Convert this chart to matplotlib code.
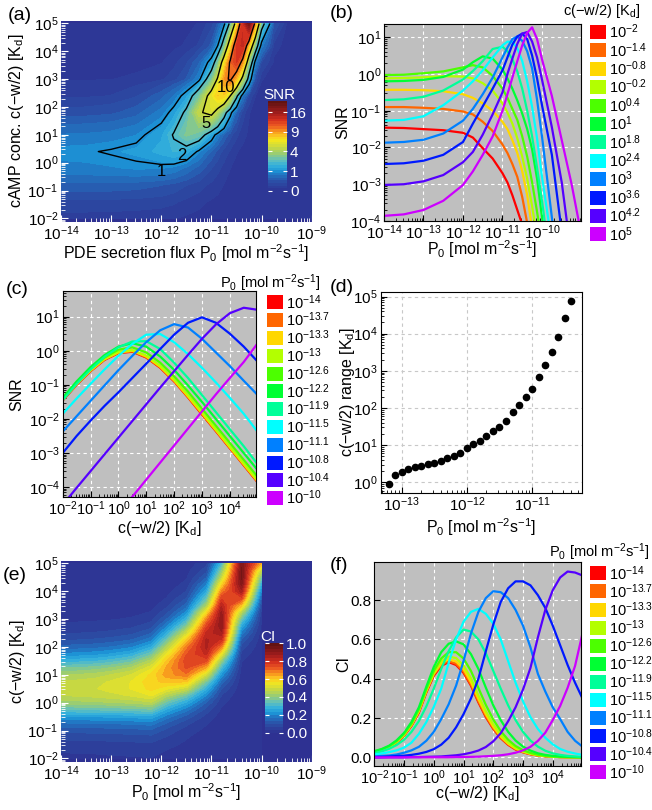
import numpy as np
import matplotlib.pyplot as plt
from matplotlib.colors import LinearSegmentedColormap, PowerNorm, Normalize
from matplotlib.patches import Rectangle
from matplotlib.ticker import FixedLocator, FuncFormatter, LogLocator, NullFormatter

plt.rcParams['font.family'] = ['Liberation Sans', 'DejaVu Sans']
plt.rcParams['mathtext.fontset'] = 'custom'
plt.rcParams['mathtext.rm'] = 'Liberation Sans'
plt.rcParams['mathtext.it'] = 'Liberation Sans:italic'
plt.rcParams['mathtext.bf'] = 'Liberation Sans:bold'

W, H = 652, 810
GRAY = '#bfbfbf'
NAVY = '#2e3192'
TICK_FS = 11
LABEL_FS = 11.5

# ---------------- SNR vs P0 for fixed c(-w/2)  (panels a, b) ----------------
c_exp = [-2, -1.4, -0.8, -0.2, 0.4, 1, 1.8, 2.4, 3, 3.6, 4.2, 5]
p0_grid = [-14, -13.5, -13, -12.5, -12, -11.75, -11.5, -11.25, -11, -10.875, -10.75,
           -10.625, -10.5, -10.375, -10.25, -10.125, -10, -9.75, -9.5, -9.25, -9]
# log10(SNR), one row per c value
log_snr = np.array([
    [-1.46, -1.47, -1.50, -1.53, -1.60, -1.73, -2.02, -2.30, -2.70, -2.95, -3.30, -3.70, -4.10, -4.60, -5.10, -5.60, -6.00, -7, -7, -7, -7],
    [-0.90, -0.90, -0.92, -0.95, -1.02, -1.10, -1.30, -1.55, -1.92, -2.15, -2.45, -2.80, -3.35, -4.05, -4.70, -5.30, -6.00, -7, -7, -7, -7],
    [-0.43, -0.43, -0.44, -0.47, -0.55, -0.65, -0.80, -1.00, -1.30, -1.50, -1.80, -2.15, -2.65, -3.30, -4.20, -5.00, -5.70, -7, -7, -7, -7],
    [-0.12, -0.11, -0.09, -0.06, -0.07, -0.12, -0.25, -0.45, -0.80, -1.05, -1.35, -1.75, -2.25, -2.85, -3.60, -4.45, -5.30, -7, -7, -7, -7],
    [-0.03, -0.02, 0.02, 0.07, 0.18, 0.24, 0.18, -0.05, -0.40, -0.65, -0.95, -1.25, -1.70, -2.25, -2.95, -3.75, -4.60, -6.5, -7, -7, -7],
    [-0.20, -0.19, -0.16, -0.08, 0.12, 0.32, 0.48, 0.42, 0.12, -0.12, -0.40, -0.72, -1.08, -1.50, -2.05, -2.85, -3.90, -6.0, -7, -7, -7],
    [-0.71, -0.69, -0.62, -0.45, -0.15, 0.08, 0.35, 0.68, 0.74, 0.62, 0.40, 0.07, -0.40, -1.00, -1.70, -2.55, -3.45, -5.5, -7, -7, -7],
    [-1.27, -1.25, -1.15, -0.85, -0.45, -0.20, 0.10, 0.45, 0.78, 0.88, 0.87, 0.70, 0.35, -0.20, -0.90, -1.75, -2.80, -4.6, -7, -7, -7],
    [-1.87, -1.85, -1.79, -1.62, -1.27, -0.95, -0.55, -0.10, 0.45, 0.72, 0.95, 1.02, 0.90, 0.62, 0.15, -0.70, -1.70, -3.9, -6.0, -7, -7],
    [-2.45, -2.43, -2.36, -2.20, -1.85, -1.35, -0.88, -0.40, 0.10, 0.45, 0.80, 1.02, 1.10, 0.95, 0.50, -0.12, -0.85, -2.2, -4.3, -6.5, -7],
    [-3.02, -3.00, -2.92, -2.75, -2.40, -2.12, -1.65, -1.10, -0.50, 0.00, 0.42, 0.82, 1.10, 1.14, 0.88, 0.45, -0.15, -1.45, -2.95, -5.0, -7],
    [-3.86, -3.82, -3.70, -3.45, -3.02, -2.65, -2.20, -1.70, -1.00, -0.55, -0.10, 0.35, 0.78, 1.12, 1.27, 0.95, 0.40, -0.60, -1.80, -3.00, -4.40],
])

# ---------------- SNR vs c(-w/2) for fixed P0  (panel c) ----------------
p0_exp = [-14, -13.7, -13.3, -13, -12.6, -12.2, -11.9, -11.5, -11.1, -10.8, -10.4, -10]
c_grid = [-2, -1.5, -1, -0.5, 0, 0.5, 1, 1.5, 2, 2.5, 3, 3.5, 4, 4.5, 5]
log_snr_c = np.array([
    [-1.46, -1.00, -0.60, -0.27, -0.07, -0.03, -0.20, -0.50, -0.90, -1.37, -1.87, -2.36, -2.86, -3.36, -3.86],
    [-1.45, -0.99, -0.59, -0.26, -0.06, -0.02, -0.19, -0.49, -0.89, -1.36, -1.86, -2.35, -2.85, -3.35, -3.85],
    [-1.44, -0.98, -0.58, -0.25, -0.05, 0.00, -0.17, -0.47, -0.87, -1.34, -1.83, -2.33, -2.83, -3.33, -3.83],
    [-1.42, -0.96, -0.56, -0.23, -0.03, 0.02, -0.14, -0.44, -0.84, -1.30, -1.80, -2.30, -2.80, -3.30, -3.80],
    [-1.40, -0.94, -0.53, -0.20, 0.03, 0.10, -0.05, -0.35, -0.75, -1.20, -1.70, -2.20, -2.70, -3.20, -3.70],
    [-1.38, -0.90, -0.48, -0.13, 0.12, 0.22, 0.12, -0.17, -0.56, -1.02, -1.50, -2.00, -2.50, -3.00, -3.50],
    [-1.45, -0.97, -0.55, -0.18, 0.10, 0.27, 0.28, 0.05, -0.35, -0.80, -1.30, -1.80, -2.30, -2.80, -3.33],
    [-1.85, -1.40, -0.97, -0.55, -0.15, 0.20, 0.47, 0.49, 0.25, -0.10, -0.50, -0.93, -1.38, -1.85, -2.38],
    [-2.37, -1.92, -1.47, -1.02, -0.57, -0.15, 0.25, 0.60, 0.78, 0.68, 0.35, -0.05, -0.45, -0.88, -1.30],
    [-3.00, -2.50, -2.05, -1.62, -1.22, -0.80, -0.38, 0.05, 0.47, 0.82, 0.98, 0.82, 0.50, 0.12, -0.32],
    [-4.52, -4.02, -3.53, -3.04, -2.55, -2.06, -1.57, -1.08, -0.60, -0.12, 0.35, 0.77, 1.10, 1.26, 1.20],
    [-6.80, -6.30, -5.80, -5.30, -4.80, -4.28, -3.78, -3.28, -2.78, -2.28, -1.78, -1.28, -0.80, -0.33, 0.22],
])

# ---------------- detectable c(-w/2) range  (panel d) ----------------
range_p0 = [-13.2, -13.1, -13.0, -12.9, -12.8, -12.7, -12.6, -12.5, -12.4, -12.3, -12.2, -12.1,
            -12.0, -11.9, -11.8, -11.7, -11.6, -11.5, -11.4, -11.3, -11.2, -11.1, -11.0, -10.9,
            -10.8, -10.7, -10.6, -10.5, -10.4]
range_c = [0.88, 1.57, 1.94, 2.24, 2.54, 2.75, 3.05, 3.39, 3.75, 4.43, 5.1, 6.3, 8.2, 10.8,
           13.2, 18, 23.6, 31.6, 45.7, 76.7, 120, 194, 333, 670, 1450, 3160, 8300, 26000, 78000]

# ---------------- CI vs c(-w/2) for fixed P0  (panels e, f) ----------------
c_fine = [-2, -1.75, -1.5, -1.25, -1, -0.75, -0.5, -0.25, 0, 0.25, 0.5, 0.75, 1, 1.25, 1.5,
          1.75, 2, 2.25, 2.5, 2.75, 3, 3.25, 3.5, 3.75, 4, 4.25, 4.5, 4.75, 5]
ci = np.array([
    [.025, .035, .05, .075, .11, .16, .228, .33, .415, .465, .485, .47, .43, .365, .28, .205, .145, .098, .064, .04, .026, .016, .01, .006, .004, .002, .001, .001, 0],
    [.026, .036, .052, .077, .112, .163, .232, .335, .42, .47, .49, .476, .436, .37, .285, .21, .148, .1, .066, .042, .027, .017, .01, .006, .004, .002, .001, .001, 0],
    [.027, .037, .053, .078, .113, .165, .235, .337, .425, .478, .499, .488, .449, .383, .297, .22, .156, .106, .07, .045, .029, .018, .011, .007, .004, .002, .001, .001, 0],
    [.029, .039, .055, .08, .116, .168, .24, .343, .432, .488, .513, .505, .468, .402, .315, .235, .168, .115, .076, .049, .031, .02, .012, .007, .004, .002, .001, .001, 0],
    [.03, .041, .057, .083, .12, .172, .245, .348, .44, .503, .535, .535, .503, .44, .353, .267, .193, .134, .09, .058, .037, .023, .014, .008, .005, .003, .002, .001, 0],
    [.032, .043, .06, .087, .125, .18, .255, .36, .46, .535, .578, .59, .575, .525, .45, .355, .265, .19, .13, .086, .055, .035, .021, .013, .008, .005, .003, .002, .001],
    [.022, .031, .044, .063, .09, .13, .185, .26, .35, .45, .54, .61, .65, .64, .6, .53, .44, .35, .265, .19, .13, .086, .055, .034, .021, .013, .008, .005, .003],
    [.015, .02, .027, .036, .05, .075, .12, .18, .257, .35, .48, .6, .69, .74, .755, .73, .68, .6, .49, .38, .285, .205, .145, .1, .067, .043, .029, .02, .013],
    [.005, .008, .01, .015, .024, .036, .054, .085, .13, .195, .27, .365, .49, .63, .74, .81, .845, .84, .81, .75, .67, .56, .425, .335, .255, .195, .13, .085, .055],
    [.002, .003, .005, .007, .009, .013, .019, .028, .042, .065, .1, .153, .22, .3, .4, .54, .675, .79, .86, .895, .895, .875, .825, .76, .67, .57, .47, .38, .3],
    [0, 0, .001, .001, .001, .002, .002, .003, .004, .005, .008, .011, .016, .024, .035, .053, .082, .123, .184, .255, .345, .455, .61, .75, .85, .915, .945, .94, .925],
    [0, 0, 0, 0, 0, .001, .001, .001, .001, .001, .001, .002, .002, .003, .004, .006, .008, .011, .016, .024, .036, .054, .084, .126, .19, .262, .354, .465, .63],
])

line_colors = ['#ff0000', '#ff6600', '#ffd700', '#b3ff00', '#4cff00', '#00ff33',
               '#00ff99', '#00ffff', '#0080ff', '#0019ff', '#5500ff', '#cc00ff']

heat = LinearSegmentedColormap.from_list('heat', [
    (0.0, NAVY), (0.1, '#2b4fa6'), (0.17, '#2271bf'), (0.22, '#1c95d7'), (0.28, '#34b0dc'),
    (0.34, '#62c0bc'), (0.41, '#97cc75'), (0.48, '#c6d843'), (0.56, '#f4e61e'),
    (0.61, '#fcc623'), (0.66, '#f7941d'), (0.72, '#ec5a22'), (0.79, '#d3301f'),
    (0.86, '#a41e1d'), (0.93, '#7e1717'), (1.0, '#5c1210')])

fig = plt.figure(figsize=(W / 100, H / 100), dpi=100)


def box(x0, y0, x1, y1):
    return [x0 / W, 1 - y1 / H, (x1 - x0) / W, (y1 - y0) / H]


def pow10(v, pos):
    return r'$\mathdefault{10^{%d}}$' % round(v)


def place_labels(ax, xl, yl, xy, yx):
    ax.set_xlabel(xl, fontsize=LABEL_FS)
    ax.set_ylabel(yl, fontsize=LABEL_FS)
    ax.xaxis.set_label_coords(0.5, xy)
    ax.yaxis.set_label_coords(yx, 0.5)
    ax.xaxis.label.set_verticalalignment('center')
    ax.yaxis.label.set_verticalalignment('center')


def heat_axes(ax):
    ax.set_facecolor(NAVY)
    ax.set_xlim(-14, -9)
    ax.set_ylim(-2.12, 5.1)
    ax.xaxis.set_major_locator(FixedLocator(range(-14, -8)))
    ax.yaxis.set_major_locator(FixedLocator(range(-2, 6)))
    ax.xaxis.set_minor_locator(FixedLocator(
        [k + np.log10(m) for k in range(-14, -9) for m in range(2, 10)]))
    ax.yaxis.set_minor_locator(FixedLocator(
        [k + np.log10(m) for k in range(-3, 5) for m in range(2, 10)]))
    ax.xaxis.set_major_formatter(FuncFormatter(pow10))
    ax.yaxis.set_major_formatter(FuncFormatter(pow10))
    ax.tick_params(which='both', direction='in', color='white', labelsize=TICK_FS,
                   top=False, right=False, pad=2)
    ax.tick_params(which='major', length=5)
    ax.tick_params(which='minor', length=3)
    for s in ax.spines.values():
        s.set_visible(False)


def log_axes(ax, bg, logy=True, xmajor=None, xfs=TICK_FS):
    ax.set_facecolor(bg)
    ax.set_xscale('log')
    if xmajor is None:
        ax.xaxis.set_major_locator(LogLocator(base=10, numticks=20))
    else:
        ax.xaxis.set_major_locator(FixedLocator(xmajor))
    ax.xaxis.set_minor_locator(LogLocator(base=10, subs=range(2, 10), numticks=20))
    ax.xaxis.set_minor_formatter(NullFormatter())
    if logy:
        ax.set_yscale('log')
        ax.yaxis.set_major_locator(LogLocator(base=10, numticks=20))
        ax.yaxis.set_minor_locator(LogLocator(base=10, subs=range(2, 10), numticks=20))
        ax.yaxis.set_minor_formatter(NullFormatter())
    ax.set_axisbelow(True)
    ax.tick_params(which='both', direction='in', labelsize=TICK_FS, top=False, right=False,
                   pad=2)
    ax.tick_params(axis='x', labelsize=xfs)
    ax.tick_params(which='major', length=4)
    ax.tick_params(which='minor', length=2)


def legend(x0, y0, dy, labels, title, tx, ty):
    for i, (lab, col) in enumerate(zip(labels, line_colors)):
        yc = y0 + i * dy
        fig.add_artist(Rectangle((x0 / W, 1 - (yc + 7) / H), 16 / W, 14 / H,
                                 transform=fig.transFigure, facecolor=col,
                                 edgecolor='none'))
        fig.text((x0 + 19) / W, 1 - yc / H, lab, fontsize=10.5, va='center')
    fig.text(tx / W, 1 - ty / H, title, fontsize=10.5, ha='right', va='center')


c_labels = [r'$10^{%g}$' % v for v in c_exp]
p0_labels = [r'$10^{%g}$' % v for v in p0_exp]
p0_title = r'P$_0$ [mol m$^{-2}$s$^{-1}$]'
c_axis = 'c(\u2212w/2) [K$_\\mathrm{d}$]'

# ---- (a) SNR map with contours ----
ax = fig.add_axes(box(61, 20.7, 311.7, 221.7))
snr = 10.0 ** log_snr
snr_norm = PowerNorm(gamma=0.5, vmin=0, vmax=21)
levels = np.linspace(0, np.sqrt(21), 36) ** 2
cs = ax.contourf(p0_grid, c_exp, snr, levels=levels, cmap=heat, norm=snr_norm)
ax.contour(p0_grid, c_exp, snr, levels=[1, 2, 5, 10], colors='black', linewidths=1)
for txt, (xl, yl) in zip(['1', '2', '5', '10'],
                         [(-11.99, -0.32), (-11.59, 0.27), (-11.11, 1.39), (-10.71, 2.70)]):
    ax.text(xl, yl, txt, fontsize=12, ha='center', va='center')
heat_axes(ax)
place_labels(ax, 'PDE secretion flux ' + p0_title, 'cAMP conc. ' + c_axis, -0.158, -0.178)

cax = fig.add_axes(box(268.3, 100.7, 287.3, 190.7))
cb = fig.colorbar(cs, cax=cax)
cb.outline.set_visible(False)
cb.set_ticks([0, 1, 4, 9, 16])
cax.minorticks_off()
cax.tick_params(direction='in', left=True, right=True, color='white', labelcolor='white',
                labelsize=11, length=3, pad=2)
fig.text(279 / W, 1 - 95 / H, 'SNR', color='white', fontsize=11, ha='center', va='center')

# ---- (b) SNR vs P0 ----
ax = fig.add_axes(box(384, 24, 580.7, 221))
log_axes(ax, GRAY)
for row, col in zip(log_snr, line_colors):
    ax.plot(10.0 ** np.array(p0_grid), 10.0 ** row, color=col, lw=1.6)
ax.set_xlim(1e-14, 10 ** -9.02)
ax.set_ylim(1e-4, 10 ** 1.36)
ax.grid(True, which='major', color='white', ls=(0, (3, 3)), lw=0.8)
place_labels(ax, p0_title, 'SNR', -0.145, -0.208)
legend(590, 32, 18.4, c_labels, c_axis, 640, 11)

# ---- (c) SNR vs c ----
ax = fig.add_axes(box(62.7, 290.7, 256, 496.7))
log_axes(ax, GRAY, xfs=10.5)
for row, col in zip(log_snr_c, line_colors):
    ax.plot(10.0 ** np.array(c_grid), 10.0 ** row, color=col, lw=1.6)
ax.set_xlim(1e-2, 10 ** 4.94)
ax.set_ylim(10 ** -4.28, 10 ** 1.76)
ax.grid(True, which='major', color='white', ls=(0, (3, 3)), lw=0.8)
place_labels(ax, c_axis, 'SNR', -0.155, -0.238)
legend(267, 302.3, 17.8, p0_labels, p0_title, 321, 283)

# ---- (d) detectable range ----
ax = fig.add_axes(box(380.7, 291.7, 581.7, 492.7))
log_axes(ax, 'white', xmajor=[1e-13, 1e-12, 1e-11])
ax.plot(10.0 ** np.array(range_p0), range_c, 'o', color='black', ms=4.5)
ax.set_xlim(10 ** -13.32, 10 ** -10.24)
ax.set_ylim(10 ** -0.28, 10 ** 5.13)
ax.grid(True, which='major', color='#c8c8c8', ls=(0, (3, 3)), lw=0.8)
place_labels(ax, p0_title, 'c(\u2212w/2) range [K$_\\mathrm{d}$]', -0.172, -0.163)

# ---- (e) CI map ----
ax = fig.add_axes(box(61, 560.7, 311.7, 761.7))
levels_ci = np.linspace(0, 1, 31)
cs = ax.contourf(p0_exp, c_fine, ci.T, levels=levels_ci, cmap=heat,
                 norm=Normalize(0, 1))
heat_axes(ax)
place_labels(ax, p0_title, c_axis, -0.152, -0.172)

cax = fig.add_axes(box(265, 643.3, 283.3, 732.7))
cb = fig.colorbar(cs, cax=cax)
cb.outline.set_visible(False)
cb.set_ticks([0, 0.2, 0.4, 0.6, 0.8, 1.0])
cb.set_ticklabels(['0.0', '0.2', '0.4', '0.6', '0.8', '1.0'])
cax.minorticks_off()
cax.tick_params(direction='in', left=True, right=True, color='white', labelcolor='white',
                labelsize=11, length=3, pad=2)
fig.text(268 / W, 1 - 637 / H, 'CI', color='white', fontsize=11, ha='center', va='center')

# ---- (f) CI vs c ----
ax = fig.add_axes(box(374.3, 561.7, 580.7, 765.7))
log_axes(ax, GRAY, logy=False, xfs=10.5)
for row, col in zip(ci, line_colors):
    ax.plot(10.0 ** np.array(c_fine), row, color=col, lw=1.6)
ax.set_xlim(1e-2, 10 ** 4.94)
ax.set_ylim(-0.042, 0.995)
ax.set_yticks([0, 0.2, 0.4, 0.6, 0.8])
ax.set_yticklabels(['0.0', '0.2', '0.4', '0.6', '0.8'])
ax.grid(True, which='major', color='white', ls=(0, (3, 3)), lw=0.8)
place_labels(ax, c_axis, 'CI', -0.138, -0.15)
legend(590, 573.3, 18.1, p0_labels, p0_title, 650, 552)

for lab, x, y in [('(a)', 8, 16), ('(b)', 330, 14), ('(c)', 6, 289),
                  ('(d)', 330, 288), ('(e)', 3, 576), ('(f)', 330, 566)]:
    fig.text(x / W, 1 - y / H, lab, fontsize=14, va='center')

fig.savefig('out.png', dpi=100)
